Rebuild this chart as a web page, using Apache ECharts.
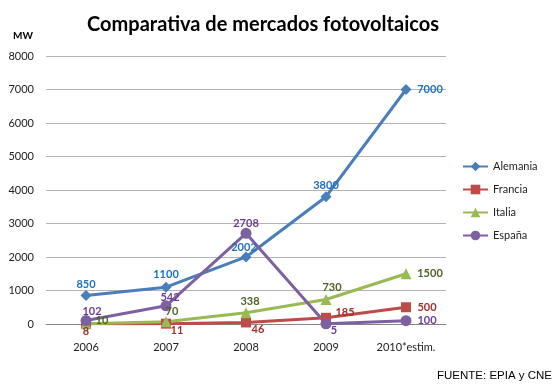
<!DOCTYPE html>
<html><head><meta charset="utf-8">
<script src="https://cdn.jsdelivr.net/npm/echarts@6/dist/echarts.min.js"></script>
<style>html,body{margin:0;padding:0;background:#fff}#c{width:554px;height:391px}</style>
</head><body><div id="c"></div>
<script>
const categories = ['2006', '2007', '2008', '2009', '2010*estim.'];
const alemania = [850, 1100, 2002, 3800, 7000];
const francia = [8, 11, 46, 185, 500];
const italia = [10, 70, 338, 730, 1500];
const espana = [102, 542, 2708, 5, 100];
const yTicks = [0, 1000, 2000, 3000, 4000, 5000, 6000, 7000, 8000];

// label offsets from each marker centre (style, not data)
const place = {
  Alemania: [[0,-11],[0,-13],[-2,-9],[0,-11],[24,0]],
  Francia: [[0,8],[11,7],[12,7],[19,-5],[21,0]],
  Italia: [[16,-3],[6,-10],[4,-11],[6,-12],[24,0]],
  'España': [[6,-9],[4,-8],[0,-10],[8,7],[21,0]]
};
function mk(name, vals, color, lblColor, symbol, size){
  return {
    name, type:'line', symbol, symbolSize:size,
    lineStyle:{width:3,color}, itemStyle:{color},
    data: vals.map((v,i)=>({value:v,label:{offset:place[name][i]}})),
    label:{show:true,position:'inside',color:lblColor,fontFamily:'Lato',fontWeight:'bold',fontSize:11},
    z: 2
  };
}
const chart = echarts.init(document.getElementById('c'));
chart.setOption({
  animation:false,
  backgroundColor:'#fff',
  title:[
    {text:'Comparativa de mercados fotovoltaicos',left:258,top:10,textAlign:'center',
     textStyle:{fontFamily:'Lato',fontWeight:'bold',fontSize:20,color:'#000'}},
    {text:'MW',left:8,top:26,textStyle:{fontFamily:'Lato',fontWeight:'bold',fontSize:10,color:'#000'}},
    {text:'FUENTE: EPIA y CNE',left:432,top:365,textStyle:{fontFamily:'Liberation Sans',fontWeight:'normal',fontSize:11.5,color:'#000'}}
  ],
  legend:{orient:'vertical',left:462,top:161,padding:0,itemGap:12,itemWidth:25,itemHeight:12,
    textStyle:{fontFamily:'Lato',fontSize:11,color:'#222'},
    data:['Alemania','Francia','Italia','España']},
  grid:{left:46,right:108,top:56,bottom:67},
  xAxis:{type:'category',data:categories,boundaryGap:true,
    axisLine:{lineStyle:{color:'#868686',width:1}},axisTick:{show:false},
    axisLabel:{margin:18,fontFamily:'Lato',fontSize:11,color:'#222'}},
  yAxis:{type:'value',min:yTicks[0],max:yTicks[yTicks.length-1],interval:1000,
    axisLine:{show:false},axisTick:{show:false},
    splitLine:{lineStyle:{color:'#b3b3b3'}},
    axisLabel:{margin:12,fontFamily:'Lato',fontSize:11,color:'#222',formatter:v=>String(v)}},
  series:[
    mk('Alemania',alemania,'#4a7ebb','#1f6fc0','diamond',11),
    mk('Francia',francia,'#be4b48','#a0302c','rect',10),
    mk('Italia',italia,'#98b954','#4f6228','triangle',11),
    mk('España',espana,'#7d60a0','#6a3d9a','circle',11)
  ]
});
</script></body></html>
